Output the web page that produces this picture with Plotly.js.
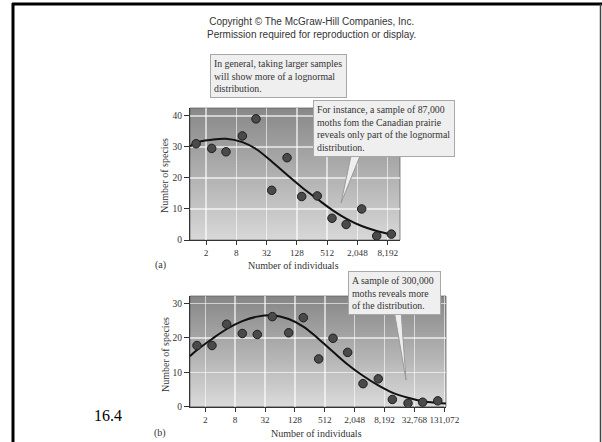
<!DOCTYPE html>
<html>
<head>
<meta charset="utf-8">
<script src="https://cdn.plot.ly/plotly-3.0.1.min.js"></script>
<style>html,body{margin:0;padding:0;background:#fff;}#chart{width:602px;height:442px;}</style>
</head>
<body>
<div id="chart"></div>
<script>
// ---- Data (panel a: 87,000 moths) ----
const xA = [1.27, 2.60, 4.99, 10.56, 19.7, 40.5, 81.6, 159.8, 326, 639, 1218, 2487, 4939, 9672];
const speciesA = [31, 29.5, 28.4, 33.5, 39, 16, 26.5, 14, 14.2, 7, 5, 10, 1.3, 1.9];
const curveXA = [0.96, 1.27, 2.60, 4.99, 10.56, 19.7, 40.5, 81.6, 159.8, 326, 639, 1218, 2487, 4939, 9672];
const curveYA = [30.1, 31.4, 32.3, 32.6, 31.5, 29.3, 25.3, 21, 17, 13.2, 9.7, 6.9, 4.5, 2.9, 1.8];
const tickValsA = [2, 8, 32, 128, 512, 2048, 8192];
const tickTextA = ['2', '8', '32', '128', '512', '2,048', '8,192'];

// ---- Data (panel b: 300,000 moths) ----
const xB = [1.36, 2.73, 5.40, 11.14, 22.3, 44.8, 95.8, 188.7, 385, 749, 1478, 3011, 6122, 11740, 24320, 47960, 96600];
const speciesB = [17.8, 17.8, 24, 21.3, 21, 26.2, 21.5, 25.9, 13.9, 19.9, 15.8, 6.7, 8.1, 2.1, 1.0, 1.3, 1.7];
const curveXB = [0.98, 1.36, 2.73, 5.40, 11.14, 22.3, 44.8, 95.8, 188.7, 385, 749, 1478, 3011, 6122, 11740, 24320, 47960, 96600, 141000];
const curveYB = [14.7, 16.5, 19.7, 22.6, 24.9, 26.2, 26.6, 25.5, 23.3, 19.7, 16, 12.3, 9.0, 6.2, 4.1, 2.6, 1.6, 1.1, 0.9];
const tickValsB = [2, 8, 32, 128, 512, 2048, 8192, 32768, 131072];
const tickTextB = ['2', '8', '32', '128', '512', '2,048', '8,192', '32,768', '131,072'];
const tickValsY_A = [0, 10, 20, 30, 40];
const tickValsY_B = [0, 10, 20, 30];

// ---- helpers for layout positions ----
const W = 602, H = 442;
const px = v => v / W;
const py = v => 1 - v / H;
const serif = '"Liberation Serif", "Times New Roman", serif';
const sans = '"Liberation Sans", Arial, sans-serif';

const markerStyle = {size: 8.5, color: '#4a4a4a', line: {color: '#1e1e1e', width: 1}};
const traces = [
  {x: curveXA, y: curveYA, xaxis: 'x', yaxis: 'y', mode: 'lines', line: {color: '#111', width: 2, shape: 'spline', smoothing: 1}, hoverinfo: 'skip'},
  {x: xA, y: speciesA, xaxis: 'x', yaxis: 'y', mode: 'markers', marker: markerStyle},
  {x: curveXB, y: curveYB, xaxis: 'x2', yaxis: 'y2', mode: 'lines', line: {color: '#111', width: 2, shape: 'spline', smoothing: 1}, hoverinfo: 'skip'},
  {x: xB, y: speciesB, xaxis: 'x2', yaxis: 'y2', mode: 'markers', marker: markerStyle}
];

function xAxis(domain, anchor, range, vals, text) {
  return {domain: domain, anchor: anchor, type: 'log', range: range, tickmode: 'array', tickvals: vals, ticktext: text,
    tickangle: 0, ticks: 'outside', ticklen: 4, tickwidth: 1, tickcolor: '#333', showline: true, linecolor: '#333', linewidth: 1,
    showgrid: true, gridcolor: 'rgba(255,255,255,0.6)', gridwidth: 1.5, zeroline: false,
    tickfont: {family: serif, size: 9.2, color: '#333'}, fixedrange: true};
}
function yAxis(domain, anchor, range, vals) {
  return {domain: domain, anchor: anchor, range: range, tickmode: 'array', tickvals: vals,
    ticks: 'outside', ticklen: 5, tickwidth: 1, tickcolor: '#333', showline: true, linecolor: '#333', linewidth: 1,
    showgrid: true, gridcolor: 'rgba(255,255,255,0.6)', gridwidth: 1.5, zeroline: false,
    tickfont: {family: serif, size: 9.5, color: '#333'}, fixedrange: true};
}

// gradient backgrounds as stacked, overlapping bands
const shapes = [];
function gradient(xr, yr, top, bot) {
  const N = 40;
  for (let i = 0; i < N; i++) {
    const t = (i + 0.5) / N; // 0 bottom -> 1 top
    const c = Math.round(bot + (top - bot) * t);
    shapes.push({type: 'rect', xref: xr, yref: yr, x0: 0, x1: 1, y0: i / N, y1: Math.min(1, (i + 1.7) / N),
      fillcolor: `rgb(${c},${c},${c})`, line: {width: 0}, layer: 'below'});
  }
  shapes.push({type: 'rect', xref: xr, yref: yr, x0: 0, x1: 1, y0: 0, y1: 1, fillcolor: 'rgba(0,0,0,0)',
    line: {color: 'rgba(90,90,90,0.7)', width: 1}, layer: 'below'});
}
gradient('x domain', 'y domain', 136, 216);
gradient('x2 domain', 'y2 domain', 134, 218);

// callout wedges
shapes.push({type: 'path', xref: 'paper', yref: 'paper',
  path: `M ${px(352)},${py(151)} L ${px(341)},${py(203)} L ${px(362)},${py(151)} Z`,
  fillcolor: '#eeeeee', line: {color: '#9a9a9a', width: 1}, layer: 'above'});
shapes.push({type: 'path', xref: 'paper', yref: 'paper',
  path: `M ${px(394)},${py(310)} L ${px(406)},${py(380)} L ${px(401)},${py(310)} Z`,
  fillcolor: '#eeeeee', line: {color: '#9a9a9a', width: 1}, layer: 'above'});

// page frame
shapes.push({type: 'line', xref: 'paper', yref: 'paper', x0: px(12), x1: 1, y0: py(4), y1: py(4), line: {color: '#000', width: 3}});
shapes.push({type: 'line', xref: 'paper', yref: 'paper', x0: px(13), x1: px(13), y0: py(3), y1: 0, line: {color: '#000', width: 3}});
shapes.push({type: 'line', xref: 'paper', yref: 'paper', x0: px(600.5), x1: px(600.5), y0: py(4), y1: 0, line: {color: '#444', width: 1.5}});

const boxStyle = {bgcolor: '#efefef', bordercolor: '#a8a8a8', borderwidth: 1, borderpad: 3, align: 'left', valign: 'top', showarrow: false,
  xref: 'paper', yref: 'paper', xanchor: 'left', yanchor: 'top', font: {family: serif, size: 9.8, color: '#333'}};

const annotations = [
  {text: 'Copyright © The McGraw-Hill Companies, Inc.<br>Permission required for reproduction or display.',
    x: px(311), y: py(27.5), xref: 'paper', yref: 'paper', xanchor: 'center', yanchor: 'middle', showarrow: false,
    font: {family: sans, size: 10, color: '#333'}},
  Object.assign({}, boxStyle, {text: 'In general, taking larger samples<br>will show more of a lognormal<br>distribution.',
    x: px(210), y: py(54), width: 129}),
  Object.assign({}, boxStyle, {text: 'For instance, a sample of 87,000<br>moths fom the Canadian prairie<br>reveals only part of the lognormal<br>distribution.',
    x: px(313), y: py(100), width: 134}),
  Object.assign({}, boxStyle, {text: 'A sample of 300,000<br>moths reveals more<br>of the distribution.',
    x: px(348), y: py(271), width: 85}),
  {text: 'Number of individuals', x: px(293), y: py(265), xref: 'paper', yref: 'paper', xanchor: 'center', yanchor: 'middle', showarrow: false,
    font: {family: serif, size: 10, color: '#333'}},
  {text: 'Number of individuals', x: px(317), y: py(433), xref: 'paper', yref: 'paper', xanchor: 'center', yanchor: 'middle', showarrow: false,
    font: {family: serif, size: 10, color: '#333'}},
  {text: 'Number of species', x: px(165), y: py(176), textangle: -90, xref: 'paper', yref: 'paper', xanchor: 'center', yanchor: 'middle', showarrow: false,
    font: {family: serif, size: 10, color: '#333'}},
  {text: 'Number of species', x: px(165), y: py(355), textangle: -90, xref: 'paper', yref: 'paper', xanchor: 'center', yanchor: 'middle', showarrow: false,
    font: {family: serif, size: 10, color: '#333'}},
  {text: '(a)', x: px(160), y: py(265), xref: 'paper', yref: 'paper', xanchor: 'center', yanchor: 'middle', showarrow: false,
    font: {family: serif, size: 10, color: '#333'}},
  {text: '(b)', x: px(160), y: py(433), xref: 'paper', yref: 'paper', xanchor: 'center', yanchor: 'middle', showarrow: false,
    font: {family: serif, size: 10, color: '#333'}},
  {text: '16.4', x: px(108), y: py(415), xref: 'paper', yref: 'paper', xanchor: 'center', yanchor: 'middle', showarrow: false,
    font: {family: serif, size: 16, color: '#000'}}
];

const layout = {
  width: W, height: H, margin: {l: 0, r: 0, t: 0, b: 0, pad: 0},
  paper_bgcolor: '#ffffff', plot_bgcolor: 'rgba(0,0,0,0)', showlegend: false,
  xaxis: xAxis([px(190), px(400)], 'y', [-0.017, 4.157], tickValsA, tickTextA),
  yaxis: yAxis([py(240), py(108)], 'x', [0, 42.5], tickValsY_A),
  xaxis2: xAxis([px(190), px(446)], 'y2', [-0.007, 5.151], tickValsB, tickTextB),
  yaxis2: yAxis([py(406.7), py(296)], 'x2', [0, 32.2], tickValsY_B),
  shapes: shapes, annotations: annotations
};

Plotly.newPlot('chart', traces, layout, {staticPlot: true, displayModeBar: false});
</script>
</body>
</html>
